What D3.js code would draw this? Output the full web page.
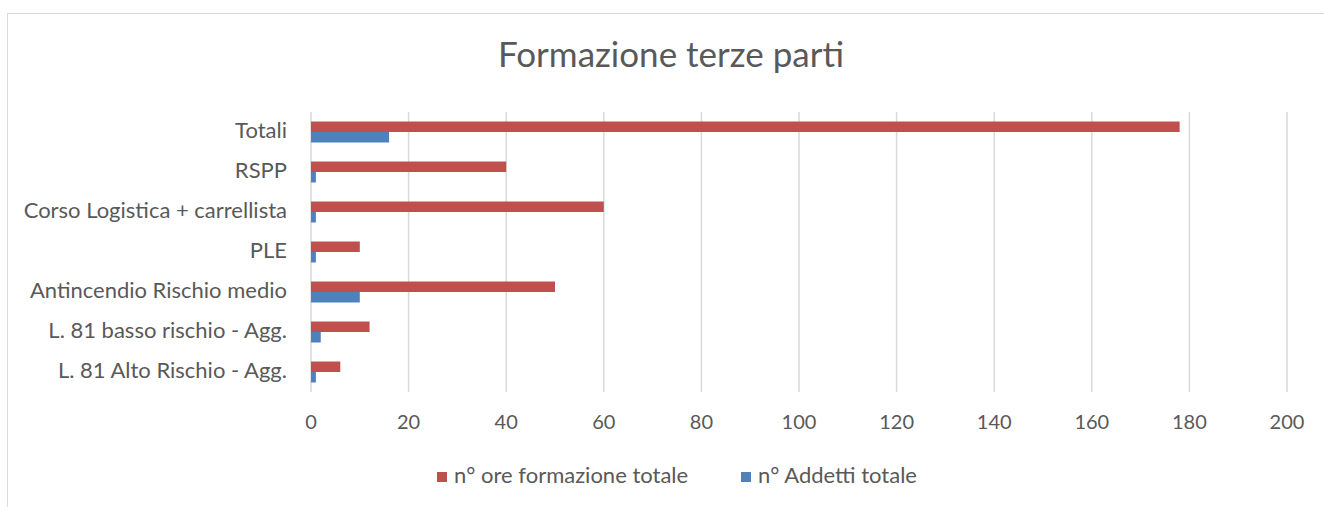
<!DOCTYPE html>
<html>
<head>
<meta charset="utf-8">
<script src="https://cdn.jsdelivr.net/npm/d3@7"></script>
<style>
  body { margin: 0; background: #fff; }
  text { font-family: Lato, "Open Sans", sans-serif; fill: #595959; }
</style>
</head>
<body>
<div id="chart"></div>
<script>
const categories = [
  "Totali",
  "RSPP",
  "Corso Logistica + carrellista",
  "PLE",
  "Antincendio Rischio medio",
  "L. 81 basso rischio - Agg.",
  "L. 81 Alto Rischio - Agg."
];
const seriesNames = ["n° ore formazione totale", "n° Addetti totale"];
const oreFormazione = [178, 40, 60, 10, 50, 12, 6];
const addetti = [16, 1, 1, 1, 10, 2, 1];
const xTicks = [0, 20, 40, 60, 80, 100, 120, 140, 160, 180, 200];
const colors = ["#C0504D", "#4F81BD"];

const width = 1324, height = 507;
const margin = {top: 112, right: 37, bottom: 115, left: 311};

const svg = d3.select("#chart")
  .append("svg")
    .attr("width", width)
    .attr("height", height);

// chart frame (cut by the picture on the right and bottom)
svg.append("rect")
  .attr("x", 7.5)
  .attr("y", 13.5)
  .attr("width", width)
  .attr("height", height)
  .attr("fill", "none")
  .attr("stroke", "#D9D9D9");

svg.append("text")
  .text("Formazione terze parti")
  .attr("x", 671)
  .attr("y", 58)
  .attr("text-anchor", "middle")
  .attr("dominant-baseline", "middle")
  .style("font-size", "35px");

const x = d3.scaleLinear()
  .domain([0, 200])
  .range([margin.left, width - margin.right]);

const y = d3.scaleBand()
  .domain(categories)
  .range([margin.top, height - margin.bottom])
  .paddingInner(0.475)
  .paddingOuter(0.2375);

const ySub = d3.scaleBand()
  .domain(seriesNames)
  .range([0, y.bandwidth()]);

// gridlines
svg.append("g")
  .selectAll("line")
  .data(xTicks)
  .join("line")
    .attr("x1", d => x(d))
    .attr("x2", d => x(d))
    .attr("y1", margin.top)
    .attr("y2", height - margin.bottom)
    .attr("stroke", "#D9D9D9")
    .attr("stroke-width", 1.5);

// x tick labels
svg.append("g")
  .selectAll("text")
  .data(xTicks)
  .join("text")
    .text(d => d)
    .attr("x", d => x(d))
    .attr("y", 424)
    .attr("text-anchor", "middle")
    .attr("dominant-baseline", "middle")
    .style("font-size", "20px");

// category labels
svg.append("g")
  .selectAll("text")
  .data(categories)
  .join("text")
    .text(d => d)
    .attr("x", 287)
    .attr("y", d => y(d) + y.bandwidth() / 2)
    .attr("text-anchor", "end")
    .attr("dominant-baseline", "middle")
    .style("font-size", "22px");

const rows = categories.map((c, i) => ({cat: c, values: [oreFormazione[i], addetti[i]]}));

svg.append("g")
  .selectAll("g")
  .data(rows)
  .join("g")
    .attr("transform", d => `translate(0, ${y(d.cat)})`)
  .selectAll("rect")
  .data(d => d.values.map((v, j) => ({series: seriesNames[j], value: v, j})))
  .join("rect")
    .attr("x", x(0))
    .attr("y", d => ySub(d.series))
    .attr("width", d => x(d.value) - x(0))
    .attr("height", ySub.bandwidth())
    .attr("fill", d => colors[d.j]);

// legend
const legendX = [437, 741];
const legend = svg.append("g")
  .selectAll("g")
  .data(seriesNames)
  .join("g")
    .attr("transform", (d, i) => `translate(${legendX[i]}, 477)`);

legend.append("rect")
  .attr("x", 0)
  .attr("y", -5)
  .attr("width", 10)
  .attr("height", 10)
  .attr("fill", (d, i) => colors[i]);

legend.append("text")
  .text(d => d)
  .attr("x", 17)
  .attr("y", 0)
  .attr("dominant-baseline", "middle")
  .style("font-size", "22px");
</script>
</body>
</html>
